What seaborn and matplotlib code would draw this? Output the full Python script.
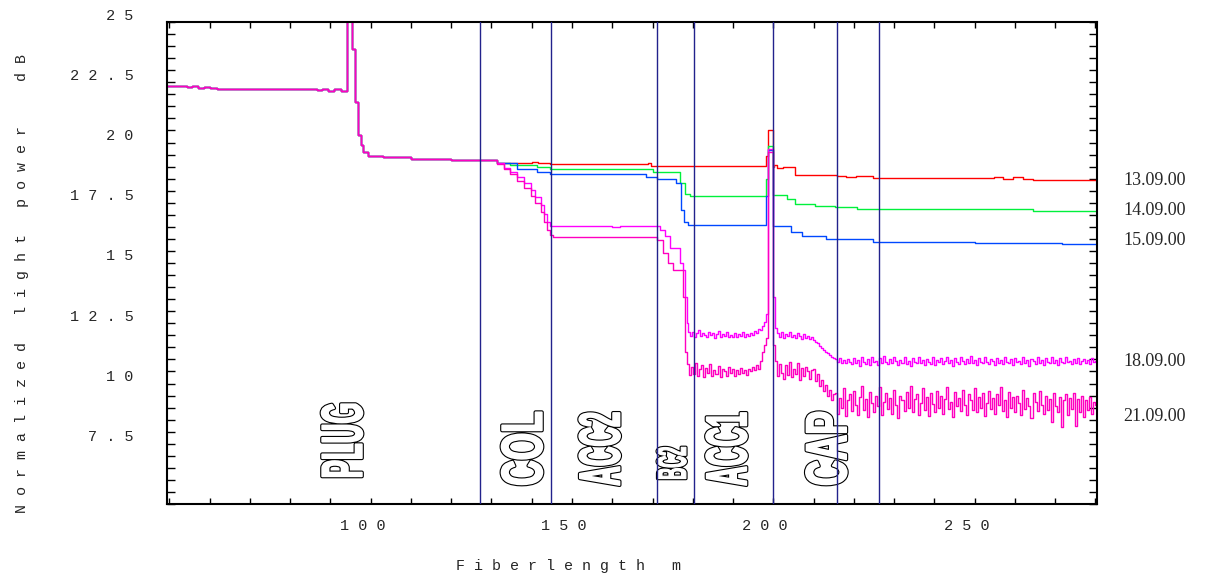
import matplotlib
matplotlib.use('Agg')

import numpy as np
import pandas as pd
import matplotlib.pyplot as plt
import matplotlib.patheffects as pe
import seaborn as sns
from matplotlib.transforms import Affine2D, ScaledTranslation
from matplotlib.ticker import MultipleLocator

# ---- data (x: fiber length m, y: dB) ----
dates = ['13.09.00', '14.09.00', '15.09.00', '18.09.00', '21.09.00']
date_label_y = [18.41, 17.16, 15.93, 10.90, 8.65]

# part shared by all five traces (breakpoints, value holds until next x)
common_x = [49.4, 54.4, 55.5, 57.0, 58.5, 60.0, 61.9, 86.7, 88.0, 89.5, 91.0, 92.5,
            94.1, 95.4, 96.2, 96.9, 97.5, 98.2, 99.3, 103.0, 110.0, 120.0, 127.2]
common_y = [22.35, 22.30, 22.34, 22.28, 22.32, 22.27, 22.23, 22.18, 22.22, 22.15, 22.2, 22.13,
            26.0, 23.9, 21.7, 20.3, 19.9, 19.6, 19.45, 19.38, 19.32, 19.29, 19.27]

red_x = [131.4, 140.0, 141.5, 144.6, 168.8, 169.6, 198.2, 198.8, 199.9, 200.2, 201.0, 202.3,
         205.5, 215.8, 218.0, 220.5, 224.8, 254.8, 257.0, 259.5, 262.0, 264.5, 280.4]
red_y = [19.17, 19.21, 19.15, 19.09, 19.13, 19.02, 19.45, 20.5, 19.0, 19.05, 18.96, 19.0,
         18.65, 18.62, 18.58, 18.61, 18.54, 18.57, 18.49, 18.55, 18.47, 18.44, 18.44]

green_x = [131.4, 134.7, 141.3, 144.6, 167.7, 170.2, 176.8, 178.0, 179.3, 198.2, 198.6, 199.9,
           203.5, 205.5, 210.3, 215.2, 220.9, 252.0, 264.5, 280.4]
green_y = [19.15, 19.07, 19.0, 18.92, 18.88, 18.79, 18.3, 17.86, 17.79, 18.5, 19.85, 17.83,
           17.65, 17.45, 17.37, 17.31, 17.25, 17.22, 17.16, 17.16]

blue_x = [131.4, 136.4, 141.3, 144.6, 168.5, 171.1, 175.8, 177.0, 177.9, 178.8, 198.2, 198.7,
          199.9, 204.3, 207.2, 213.1, 224.8, 250.0, 266.0, 271.6, 280.4]
blue_y = [19.15, 18.92, 18.78, 18.68, 18.58, 18.48, 18.3, 17.2, 16.7, 16.56, 17.8, 19.7,
          16.55, 16.27, 16.12, 15.98, 15.87, 15.84, 15.82, 15.79, 15.79]

# 18.09.00
m1_x = [131.4, 133.1, 134.7, 136.4, 138.0, 139.7, 140.9, 142.2, 143.0, 143.8, 144.6, 160.0,
        162.0, 171.9, 173.1, 174.4, 176.8, 177.6, 178.1, 178.6]
m1_y = [19.15, 18.95, 18.78, 18.55, 18.3, 18.03, 17.75, 17.4, 17.03, 16.7, 16.55, 16.5,
        16.54, 16.37, 16.1, 15.61, 14.99, 14.7, 13.6, 12.5]
m1_pre = [12.15, 11.98, 12.12, 11.95, 12.08, 12.2, 11.97, 12.1, 12.02, 11.92, 12.14, 12.0,
          12.09, 11.9, 12.05, 12.17, 11.94, 12.06, 11.98, 12.12, 11.91, 12.03, 11.95, 12.1,
          11.93, 12.04, 11.97, 12.13, 11.95, 12.06, 11.99, 12.11, 12.02, 12.18, 12.08, 12.25,
          12.2, 12.38, 12.55]
m1_spike_x = [198.2, 198.7, 199.9]
m1_spike_y = [12.9, 19.75, 13.6]
m1_post = [12.3, 12.1, 11.95, 12.12, 11.9, 12.06, 11.97, 12.14, 11.92, 12.03, 11.88, 12.08,
           11.96, 11.86, 12.04, 11.9, 11.98, 11.84, 11.95,
           11.8, 11.72, 11.66, 11.55, 11.48, 11.4, 11.3, 11.26, 11.18, 11.12, 11.06,
           11.0, 10.9, 11.05, 10.86, 10.98, 10.84, 11.02, 10.9,
           10.8, 11.06, 10.86, 10.98, 10.74, 11.1, 10.9, 10.82, 11.0, 10.78, 11.12, 10.88,
           10.95, 10.76, 11.04, 10.84, 11.14, 10.9, 10.8, 11.02, 10.85, 11.08, 10.92, 10.75,
           10.98, 10.87, 11.1, 10.8, 10.94, 10.73, 11.05, 10.9, 10.84, 11.12, 10.86, 10.97,
           10.78, 11.03, 10.9, 10.82, 11.09, 10.76, 10.96, 10.88, 11.06, 10.8, 10.93, 11.11,
           10.85, 10.99, 10.74, 11.04, 10.89, 10.81, 11.08, 10.92, 10.79, 11.01, 10.87, 11.13,
           10.83, 10.96, 10.77, 11.05, 10.9, 10.84, 11.1, 10.88, 10.8, 11.02, 10.94, 10.75,
           11.07, 10.86, 10.98, 10.79, 11.11, 10.91, 10.83, 11.0, 10.77, 11.06, 10.89, 10.95,
           10.8, 11.09, 10.85, 10.97, 10.74, 11.03, 10.92, 10.82, 11.12, 10.87, 10.96, 10.78,
           11.04, 10.9, 10.83, 11.08, 10.86, 10.99, 10.76, 11.05, 10.91, 10.84, 11.1, 10.88,
           10.95, 10.79, 11.02, 10.87, 11.07, 10.82, 10.93, 11.0, 10.85, 10.97,
           10.8, 11.04, 10.9, 10.92]

# 21.09.00
m2_x = [131.4, 133.1, 134.7, 136.4, 138.0, 139.7, 140.9, 142.2, 143.0, 143.8, 144.6, 145.4,
        171.1, 172.6, 173.9, 175.1, 177.6, 178.0]
m2_y = [19.1, 18.88, 18.68, 18.42, 18.12, 17.8, 17.48, 17.1, 16.72, 16.38, 16.18, 16.08,
        15.95, 15.4, 14.99, 14.7, 13.6, 11.3]
m2_pre = [10.8, 10.35, 10.7, 10.4, 10.85, 10.3, 10.6, 10.75, 10.28, 10.65, 10.45, 10.82,
          10.3, 10.58, 10.4, 10.72, 10.25, 10.62, 10.5, 10.33, 10.7, 10.42, 10.6, 10.3,
          10.55, 10.38, 10.66, 10.45, 10.58, 10.35, 10.62, 10.5, 10.7, 10.55, 10.78, 10.6,
          10.95, 11.3, 11.6]
m2_spike_x = [198.2, 198.7, 199.9]
m2_spike_y = [11.9, 19.6, 11.6]
m2_post = [10.95, 10.3, 10.8, 10.45, 10.2, 10.75, 10.35, 10.9, 10.25, 10.6, 10.4, 10.85,
           10.15, 10.65, 10.3, 10.7, 10.5, 10.2, 10.55,
           10.6, 10.1, 10.4, 9.9, 10.15, 9.7, 9.95, 9.5, 9.75, 9.3, 9.55,
           9.6, 8.75, 9.4, 9.0, 9.8, 8.65, 9.3, 9.55, 8.85, 9.7, 9.1, 8.7, 9.45,
           9.9, 8.9, 9.35, 8.6, 9.65, 9.2, 8.8, 9.5, 9.05, 9.85, 8.7, 9.25, 9.6,
           8.95, 9.4, 8.75, 9.75, 9.1, 8.55, 9.5, 9.3, 8.85, 9.65, 9.0, 9.9, 8.8,
           9.35, 9.55, 8.7, 9.2, 9.8, 8.9, 9.45, 8.65, 9.6, 9.15, 8.8, 9.7, 9.0,
           9.5, 8.75, 9.35, 9.85, 8.95, 9.25, 8.6, 9.65, 9.05, 9.4, 8.85, 9.75, 9.1,
           8.7, 9.55, 9.3, 8.9, 9.8, 8.8, 9.45, 9.0, 9.6, 8.65, 9.2, 9.7, 8.95,
           9.4, 8.75, 9.55, 9.1, 9.85, 8.85, 9.3, 8.6, 9.65, 9.0, 9.45, 8.8, 9.5,
           9.2, 8.7, 9.75, 8.95, 9.4, 9.05, 8.55, 9.6, 9.25, 8.85, 9.7, 9.1, 8.75,
           9.5, 8.9, 9.35, 8.4, 9.6, 9.05, 8.8, 9.45, 8.2, 9.3, 9.55, 8.7, 9.4,
           8.95, 9.6, 8.25, 9.35, 8.8, 9.5, 8.6, 9.3, 8.9, 9.45, 8.75, 9.25, 9.1]

# section boundaries and names
boundaries = [127.2, 144.8, 171.1, 180.3, 200.0, 215.8, 226.2]
sections = ['PLUG', 'COL', 'ACC2', 'BC2', 'ACC1', 'CAP']
section_x = [93.7, 138.4, 157.7, 175.6, 189.2, 214.0]

xticks = [100, 150, 200, 250]
yticks = [7.5, 10, 12.5, 15, 17.5, 20, 22.5, 25]

# ---- styles ----
colors = ['#ff0000', '#00f03c', '#0048ff', '#ff00ff', '#ff00c0']
section_bottom = [6.03, 5.74, 5.74, 5.94, 5.74, 5.74]
section_box = [(29.5, 52), (29.5, 52), (29.5, 52), (21, 22.5), (29.5, 52), (29.5, 52)]  # points
MONO = ['Liberation Mono', 'DejaVu Sans Mono']


def spaced(s):
    return ' '.join(s)


def noisy(start, stop, values):
    xs = np.linspace(start, stop, len(values), endpoint=False)
    return list(xs), list(values)


class FitOutline(pe.AbstractPathEffect):
    """Heavy white glyph with a thin black outline, squeezed into a box."""

    def __init__(self, width, height, edge=0.8):
        super().__init__()
        self.width, self.height, self.edge = width, height, edge
        self.bold = 0.04 * width

    def draw_path(self, renderer, gc, tpath, affine, rgbFace=None):
        box = tpath.transformed(affine).get_extents()
        w = renderer.points_to_pixels(self.width)
        h = renderer.points_to_pixels(self.height)
        cx = 0.5 * (box.x0 + box.x1)
        fit = (Affine2D().translate(-cx, -box.y0)
               .scale(w / box.width, h / box.height)
               .translate(cx, box.y0))
        for lw, ec in [(self.bold + 2 * self.edge, 'black'), (self.bold, 'white')]:
            gc0 = renderer.new_gc()
            gc0.copy_properties(gc)
            gc0.set_linewidth(lw)
            gc0.set_foreground(ec)
            gc0.set_joinstyle('round')
            renderer.draw_path(gc0, tpath, affine + fit, (1, 1, 1))
            gc0.restore()


def magenta(smooth_x, smooth_y, pre, pre_start, spike_x, spike_y, post):
    px, py = noisy(pre_start, 198.2, pre)
    qx, qy = noisy(200.3, 280.4, post)
    xs = common_x + smooth_x + px + spike_x + qx + [280.4]
    ys = common_y + smooth_y + py + spike_y + qy + [post[-1]]
    return xs, ys


traces = {
    dates[0]: (common_x + red_x, common_y + red_y),
    dates[1]: (common_x + green_x, common_y + green_y),
    dates[2]: (common_x + blue_x, common_y + blue_y),
    dates[3]: magenta(m1_x, m1_y, m1_pre, 178.9, m1_spike_x, m1_spike_y, m1_post),
    dates[4]: magenta(m2_x, m2_y, m2_pre, 178.6, m2_spike_x, m2_spike_y, m2_post),
}
df = pd.concat([pd.DataFrame({'x': xs, 'y': ys, 'date': d}) for d, (xs, ys) in traces.items()],
               ignore_index=True)

sns.set_style('ticks')
fig = plt.figure(figsize=(12.13, 5.81), dpi=100)
ax = fig.add_axes([167 / 1213, 77 / 581, 930 / 1213, 482 / 581])

sns.lineplot(data=df, x='x', y='y', hue='date', hue_order=dates, palette=colors,
             estimator=None, sort=False, drawstyle='steps-post', linewidth=1.0,
             legend=False, ax=ax, zorder=2)

for b in boundaries:
    ax.axvline(b, color='#22228c', lw=1.0, zorder=4)

for name, sx, sb, (w, h) in zip(sections, section_x, section_bottom, section_box):
    ax.text(sx, sb, name, rotation=90, ha='center', va='bottom', fontsize=30,
            weight='bold', family=['Liberation Sans', 'DejaVu Sans'],
            path_effects=[FitOutline(w, h)], zorder=3)

for d, ly in zip(dates, date_label_y):
    ax.text(1.028, ly, d, transform=ax.get_yaxis_transform(), ha='left', va='center',
            family=['Liberation Serif', 'DejaVu Serif'], fontsize=13, clip_on=False)

ax.set_xlim(49.4, 280.4)
ax.set_ylim(5, 25)
ax.set_xlabel('')
ax.set_ylabel('')

ax.set_xticks(xticks)
ax.set_xticklabels([spaced(str(v)) for v in xticks], family=MONO, fontsize=11)
ax.xaxis.set_minor_locator(MultipleLocator(10))
ax.set_yticks(yticks)
ax.set_yticklabels([spaced(f'{v:g}') for v in yticks], family=MONO, fontsize=11, va='center')
ax.yaxis.set_minor_locator(MultipleLocator(0.5))

ax.tick_params(which='both', direction='in', top=True, right=True, width=1.0, color='black')
ax.tick_params(axis='x', which='both', length=4, pad=11)
ax.tick_params(axis='y', which='both', length=6, pad=24)

for lbl in ax.get_xticklabels():
    lbl.set_transform(lbl.get_transform() + ScaledTranslation(-8 / 100, 0, fig.dpi_scale_trans))
for lbl in ax.get_yticklabels():
    lbl.set_transform(lbl.get_transform() + ScaledTranslation(0, 6.5 / 100, fig.dpi_scale_trans))

for s in ax.spines.values():
    s.set_linewidth(1.5)
    s.set_color('black')

fig.text(569 / 1213, 1 - 566 / 581, spaced('Fiberlength m'), ha='center', va='center',
         family=MONO, fontsize=10.85)
fig.text(22 / 1213, 1 - 283.5 / 581, spaced('Normalized light power  dB'), rotation=90,
         ha='center', va='center', family=MONO, fontsize=10.85)

fig.savefig('out.png', dpi=100)
